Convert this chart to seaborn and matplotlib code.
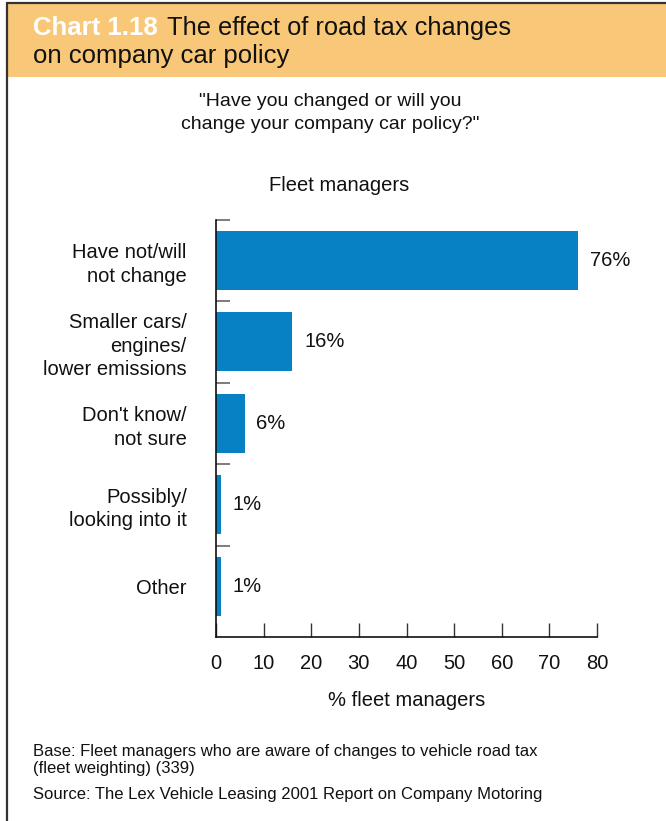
import matplotlib
matplotlib.use("Agg")
import matplotlib.pyplot as plt
from matplotlib.patches import Rectangle
from matplotlib.lines import Line2D
import seaborn as sns
import pandas as pd

# Survey responses
categories = [
    "Have not/will\nnot change",
    "Smaller cars/\nengines/\nlower emissions",
    "Don't know/\nnot sure",
    "Possibly/\nlooking into it",
    "Other",
]
percent = [76, 16, 6, 1, 1]
x_ticks = [0, 10, 20, 30, 40, 50, 60, 70, 80]

BAR = "#0880C4"
HEADER = "#F8C878"
BODY_FONT = ["Liberation Sans", "DejaVu Sans"]
FS = 14.5

sns.set_theme(style="white")
plt.rcParams["font.family"] = BODY_FONT

df = pd.DataFrame({"category": categories, "percent": percent})

fig = plt.figure(figsize=(6.66, 8.21), dpi=100)
W, H = 666, 821

def fx(px):
    return px / W

def fy(py):
    return 1 - py / H

# Header band and frame
fig.patches.append(Rectangle((fx(7), fy(77)), 1 - fx(7), fy(3) - fy(77),
                             transform=fig.transFigure, facecolor=HEADER,
                             edgecolor="none", zorder=0))
fig.lines.append(Line2D([fx(7), fx(7)], [fy(3), 0], transform=fig.transFigure,
                        color="#333333", lw=1.6))
fig.lines.append(Line2D([fx(7), 1], [fy(3), fy(3)], transform=fig.transFigure,
                        color="#333333", lw=1.6))

fig.text(fx(33), fy(35), "Chart 1.18", color="white", fontweight="bold",
         fontsize=18.5, va="baseline")
fig.text(fx(167), fy(35), "The effect of road tax changes", color="#111111",
         fontsize=18.3, va="baseline")
fig.text(fx(33), fy(63), "on company car policy", color="#111111",
         fontsize=18.5, va="baseline")

fig.text(fx(330), fy(113), "\"Have you changed or will you\nchange your company car policy?\"",
         ha="center", va="center", fontsize=14, linespacing=1.4, color="#111111")
fig.text(fx(339), fy(185), "Fleet managers", ha="center", va="center",
         fontsize=FS, color="#111111")

ax = fig.add_axes([fx(216), fy(637), fx(597) - fx(216), fy(219.75) - fy(637)])
sns.barplot(data=df, x="percent", y="category", orient="h", color=BAR,
            saturation=1, width=0.724, ax=ax)
for p in ax.patches:
    p.set_edgecolor("none")

ax.set_xlim(0, 80)
ax.set_ylim(4.62, -0.5)
ax.set_xticks(x_ticks)
ax.set_xticklabels([str(t) for t in x_ticks], fontsize=FS, color="#111111")
ax.tick_params(axis="x", direction="in", length=10, width=1, color="#333333",
               pad=12, bottom=True)

ax.set_yticks(range(len(categories)))
ax.set_yticklabels(categories, fontsize=FS, color="#111111", linespacing=1.3)
ax.tick_params(axis="y", which="major", length=0, pad=21)
ax.set_yticks([i - 0.5 for i in range(len(categories))], minor=True)
ax.tick_params(axis="y", which="minor", direction="in", length=10, width=1.2,
               color="#666666", left=True)

ax.set_xlabel("% fleet managers", fontsize=FS, color="#111111", labelpad=13)
ax.set_ylabel("")

for side in ["top", "right"]:
    ax.spines[side].set_visible(False)
for side in ["left", "bottom"]:
    ax.spines[side].set_color("#111111")
    ax.spines[side].set_linewidth(1.2)

for i, v in enumerate(percent):
    ax.annotate(f"{v}%", (v, i), xytext=(8.5, 0), textcoords="offset points",
                va="center", ha="left", fontsize=FS, color="#111111")

fig.text(fx(33), fy(760), "Base: Fleet managers who are aware of changes to vehicle road tax\n(fleet weighting) (339)",
         fontsize=12, va="center", linespacing=1.2, color="#111111")
fig.text(fx(33), fy(794), "Source: The Lex Vehicle Leasing 2001 Report on Company Motoring",
         fontsize=12, va="center", color="#111111")

fig.savefig("out.png", dpi=100)
